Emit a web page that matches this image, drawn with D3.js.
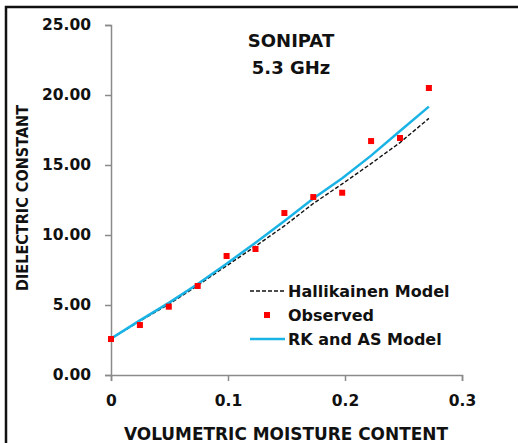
<!DOCTYPE html>
<html>
<head>
<meta charset="utf-8">
<script src="https://cdn.jsdelivr.net/npm/d3@7"></script>
<style>
  html, body { margin: 0; padding: 0; background: #fff; }
  svg { display: block; font-family: "DejaVu Sans", sans-serif; font-weight: bold; }
</style>
</head>
<body>
<div id="chart"></div>
<script>
// volumetric moisture content
const moisture = [0, 0.0247, 0.0494, 0.0741, 0.0988, 0.1235, 0.1482, 0.1729, 0.1976, 0.2223, 0.247, 0.2717];
const observed = [2.57, 3.57, 4.88, 6.36, 8.5, 9.0, 11.57, 12.71, 13.02, 16.71, 16.93, 20.5];
const rkAsModel = [2.6, 3.9, 5.15, 6.5, 7.95, 9.45, 11.0, 12.6, 14.05, 15.67, 17.43, 19.17];
const hallikainen = [2.6, 3.85, 5.05, 6.4, 7.8, 9.2, 10.65, 12.25, 13.65, 15.1, 16.6, 18.33];
const xTicks = [0, 0.1, 0.2, 0.3];
const yTicks = [0, 5, 10, 15, 20, 25];
const legendLabels = ["Hallikainen Model", "Observed", "RK and AS Model"];

const width = 518, height = 443;
const margin = { top: 25, right: 56, bottom: 68, left: 111 };
const w = width - margin.left - margin.right;
const h = height - margin.top - margin.bottom;

const svg = d3.select("#chart")
  .append("svg")
  .attr("width", width)
  .attr("height", height);

// outer frame (only left and top edges visible)
svg.append("path")
  .attr("d", `M6,${height} V7 H${width}`)
  .attr("fill", "none")
  .attr("stroke", "#111")
  .attr("stroke-width", 2.5);

const g = svg.append("g")
  .attr("transform", `translate(${margin.left},${margin.top})`);

const x = d3.scaleLinear().domain([0, 0.3]).range([0, w]);
const y = d3.scaleLinear().domain([0, 25]).range([h, 0]);

// axes
const xAxis = g.append("g")
  .attr("transform", `translate(0,${h})`)
  .call(d3.axisBottom(x).tickValues(xTicks).tickSize(6).tickPadding(14)
    .tickFormat(d => d === 0 ? "0" : d3.format(".1f")(d)));

const yAxis = g.append("g")
  .call(d3.axisLeft(y).tickValues(yTicks).tickSize(6).tickPadding(14)
    .tickFormat(d3.format(".2f")));

[xAxis, yAxis].forEach(a => {
  a.selectAll("path, line").attr("stroke", "#8a8a8a").attr("stroke-width", 1.5);
  a.selectAll("text")
    .attr("fill", "#111")
    .style("font-size", "15.5px")
    .style("font-weight", "bold")
    .style("font-family", "'DejaVu Sans', sans-serif");
});

// model lines
const line = d3.line()
  .x((d, i) => x(moisture[i]))
  .y(d => y(d));

g.append("path")
  .datum(hallikainen)
  .attr("fill", "none")
  .attr("stroke", "#111")
  .attr("stroke-width", 1.4)
  .attr("stroke-dasharray", "4,2")
  .attr("d", line);

g.append("path")
  .datum(rkAsModel)
  .attr("fill", "none")
  .attr("stroke", "#1ab3e6")
  .attr("stroke-width", 2.5)
  .attr("d", line);

// observed points
g.selectAll(".obs")
  .data(observed)
  .enter()
  .append("rect")
  .attr("class", "obs")
  .attr("x", (d, i) => x(moisture[i]) - 3)
  .attr("y", d => y(d) - 3)
  .attr("width", 6)
  .attr("height", 6)
  .attr("fill", "#ff0000");

// title
svg.append("text")
  .attr("x", 291).attr("y", 47)
  .attr("text-anchor", "middle")
  .style("font-size", "18px")
  .attr("fill", "#111")
  .text("SONIPAT");

svg.append("text")
  .attr("x", 291).attr("y", 74)
  .attr("text-anchor", "middle")
  .style("font-size", "18px")
  .attr("fill", "#111")
  .text("5.3 GHz");

// axis labels
svg.append("text")
  .attr("x", 286).attr("y", 440)
  .attr("text-anchor", "middle")
  .style("font-size", "17px")
  .attr("textLength", 324)
  .attr("lengthAdjust", "spacingAndGlyphs")
  .attr("fill", "#111")
  .text("VOLUMETRIC MOISTURE CONTENT");

svg.append("text")
  .attr("transform", "translate(28,198) rotate(-90)")
  .attr("text-anchor", "middle")
  .style("font-size", "16.5px")
  .attr("textLength", 186)
  .attr("lengthAdjust", "spacingAndGlyphs")
  .attr("fill", "#111")
  .text("DIELECTRIC CONSTANT");

// legend
const legend = svg.append("g").attr("transform", "translate(250,291)");
const rowGap = 24;

legend.append("line")
  .attr("x1", 0).attr("x2", 35).attr("y1", 0).attr("y2", 0)
  .attr("stroke", "#111").attr("stroke-width", 1.4)
  .attr("stroke-dasharray", "4,2");

legend.append("rect")
  .attr("x", 14).attr("y", rowGap - 3)
  .attr("width", 6).attr("height", 6)
  .attr("fill", "#ff0000");

legend.append("line")
  .attr("x1", 0).attr("x2", 35).attr("y1", rowGap * 2).attr("y2", rowGap * 2)
  .attr("stroke", "#1ab3e6").attr("stroke-width", 2.5);

legend.selectAll(".lbl")
  .data(legendLabels)
  .enter()
  .append("text")
  .attr("class", "lbl")
  .attr("x", 38)
  .attr("y", (d, i) => i * rowGap + 6)
  .style("font-size", "16px")
  .attr("fill", "#111")
  .text(d => d);
</script>
</body>
</html>
